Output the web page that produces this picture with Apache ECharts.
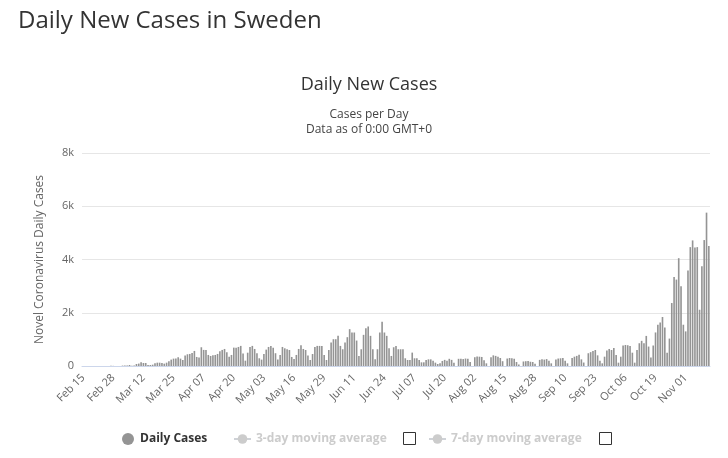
<!DOCTYPE html>
<html><head><meta charset="utf-8">
<script src="https://cdn.jsdelivr.net/npm/echarts@6/dist/echarts.min.js"></script>
<style>html,body{margin:0;padding:0;background:#fff}#c{width:728px;height:458px}</style>
</head><body><div id="c"></div>
<script>
// ---- data ----
const startYear = 2020, startMonth = 1, startDay = 15; // Feb 15, 2020
const dayCount = 271; // Feb 15 .. Nov 11
const monthNames = ['Jan','Feb','Mar','Apr','May','Jun','Jul','Aug','Sep','Oct','Nov','Dec'];
const dailyCases = [
  0,0,0,0,0,0,0,0,0,0,
  0,1,5,5,1,0,1,15,21,22,
  38,10,20,75,90,140,113,113,38,38,
  50,100,125,125,113,88,125,176,240,277,
  277,327,277,226,390,440,453,490,566,340,
  315,704,604,604,415,377,402,415,453,553,
  604,640,515,350,415,690,690,715,755,465,
  200,500,715,755,640,480,290,240,450,615,
  715,755,690,480,240,415,715,665,630,600,
  340,265,415,640,780,640,600,390,225,450,
  715,755,755,755,415,225,600,880,1006,1006,
  1132,755,629,880,1082,1384,1258,1258,956,377,
  629,1170,1421,1484,1132,629,250,629,1258,1660,
  1258,1132,667,377,704,755,629,629,629,290,
  226,226,503,290,290,226,138,138,226,250,
  250,200,126,75,100,190,230,200,270,230,
  120,0,270,270,260,280,270,150,0,330,
  360,350,340,220,100,0,330,400,380,350,
  300,180,0,280,300,290,270,150,60,0,
  170,180,190,160,150,80,0,230,250,240,
  260,200,100,0,240,280,290,300,200,100,
  0,300,350,380,420,250,130,0,480,520,
  560,600,400,200,100,350,580,640,600,680,
  415,125,350,770,790,780,755,500,125,600,
  855,945,855,1130,730,320,770,1260,1550,1635,
  1840,1450,500,1030,2365,3345,3245,4050,2994,1550,
  1300,3585,4465,4717,4453,4465,2113,3748,4730,5760,
  4503
];
const movingAvg3 = [];
const movingAvg7 = [];
const yMin = 0, yMax = 8000, yStep = 2000;

// ---- categories ----
const categories = [];
for (let d = 0; d < dayCount; d++) {
  const dt = new Date(Date.UTC(startYear, startMonth, startDay + d));
  const dd = String(dt.getUTCDate()).padStart(2, '0');
  categories.push(monthNames[dt.getUTCMonth()] + ' ' + dd);
}

const FONT = '"Open Sans", "Noto Sans", sans-serif';
const chart = echarts.init(document.getElementById('c'), null, {renderer: 'canvas'});
chart.setOption({
  animation: false,
  backgroundColor: '#fff',
  grid: {left: 82, right: 18, top: 153, bottom: 92, containLabel: false},
  xAxis: {
    type: 'category',
    data: categories,
    boundaryGap: true,
    axisLine: {show: true, lineStyle: {color: '#ccd6eb', width: 1}},
    axisTick: {show: false},
    axisLabel: {interval: 12, rotate: 45, color: '#666', fontSize: 11, fontFamily: FONT, margin: 10}
  },
  yAxis: {
    type: 'value',
    min: yMin, max: yMax, interval: yStep,
    name: 'Novel Coronavirus Daily Cases',
    nameLocation: 'middle', nameGap: 36, nameRotate: 90,
    nameTextStyle: {color: '#666', fontSize: 12, fontFamily: FONT},
    axisLine: {show: false}, axisTick: {show: false},
    splitLine: {lineStyle: {color: '#e6e6e6', width: 1}},
    axisLabel: {color: '#666', fontSize: 11, fontFamily: FONT, margin: 8,
      formatter: v => v === 0 ? '0' : (v / 1000) + 'k'}
  },
  legend: [
    {left: 117, top: 428, itemWidth: 14, itemHeight: 12, itemGap: 0,
     data: [{name: 'Daily Cases', icon: 'circle'}],
     textStyle: {fontFamily: FONT, fontSize: 12, fontWeight: 'bold', color: '#333'}, inactiveColor: '#ccc'},
    {left: 228, top: 428, itemWidth: 17, itemHeight: 12, itemGap: 0,
     data: ['3-day moving average'],
     selected: {'3-day moving average': false},
     textStyle: {fontFamily: FONT, fontSize: 12, fontWeight: 'bold', color: '#333'}, inactiveColor: '#ccc'},
    {left: 423, top: 428, itemWidth: 17, itemHeight: 12, itemGap: 0,
     data: ['7-day moving average'],
     selected: {'7-day moving average': false},
     textStyle: {fontFamily: FONT, fontSize: 12, fontWeight: 'bold', color: '#333'}, inactiveColor: '#ccc'}
  ],
  graphic: [
    {type: 'text', left: 18, top: 9, style: {text: 'Daily New Cases in Sweden', font: '24px ' + FONT, fill: '#333'}},
    {type: 'text', x: 369, y: 85, style: {text: 'Daily New Cases', font: '18px ' + FONT, fill: '#333', textAlign: 'center', textVerticalAlign: 'middle'}},
    {type: 'text', x: 369, y: 115, style: {text: 'Cases per Day', font: '12px ' + FONT, fill: '#444', textAlign: 'center', textVerticalAlign: 'middle'}},
    {type: 'text', x: 369, y: 130, style: {text: 'Data as of 0:00 GMT+0', font: '12px ' + FONT, fill: '#444', textAlign: 'center', textVerticalAlign: 'middle'}},
    {type: 'rect', shape: {x: 403.5, y: 432.5, width: 12, height: 12}, style: {fill: '#fff', stroke: '#333', lineWidth: 1}},
    {type: 'rect', shape: {x: 599.5, y: 432.5, width: 12, height: 12}, style: {fill: '#fff', stroke: '#333', lineWidth: 1}}
  ],
  series: [
    {name: 'Daily Cases', type: 'bar', data: dailyCases, barWidth: '70%',
     itemStyle: {color: '#949494'}},
    {name: '3-day moving average', type: 'line', data: movingAvg3, symbol: 'circle', itemStyle: {color: '#999'}},
    {name: '7-day moving average', type: 'line', data: movingAvg7, symbol: 'circle', itemStyle: {color: '#999'}}
  ]
});
</script>
</body></html>
